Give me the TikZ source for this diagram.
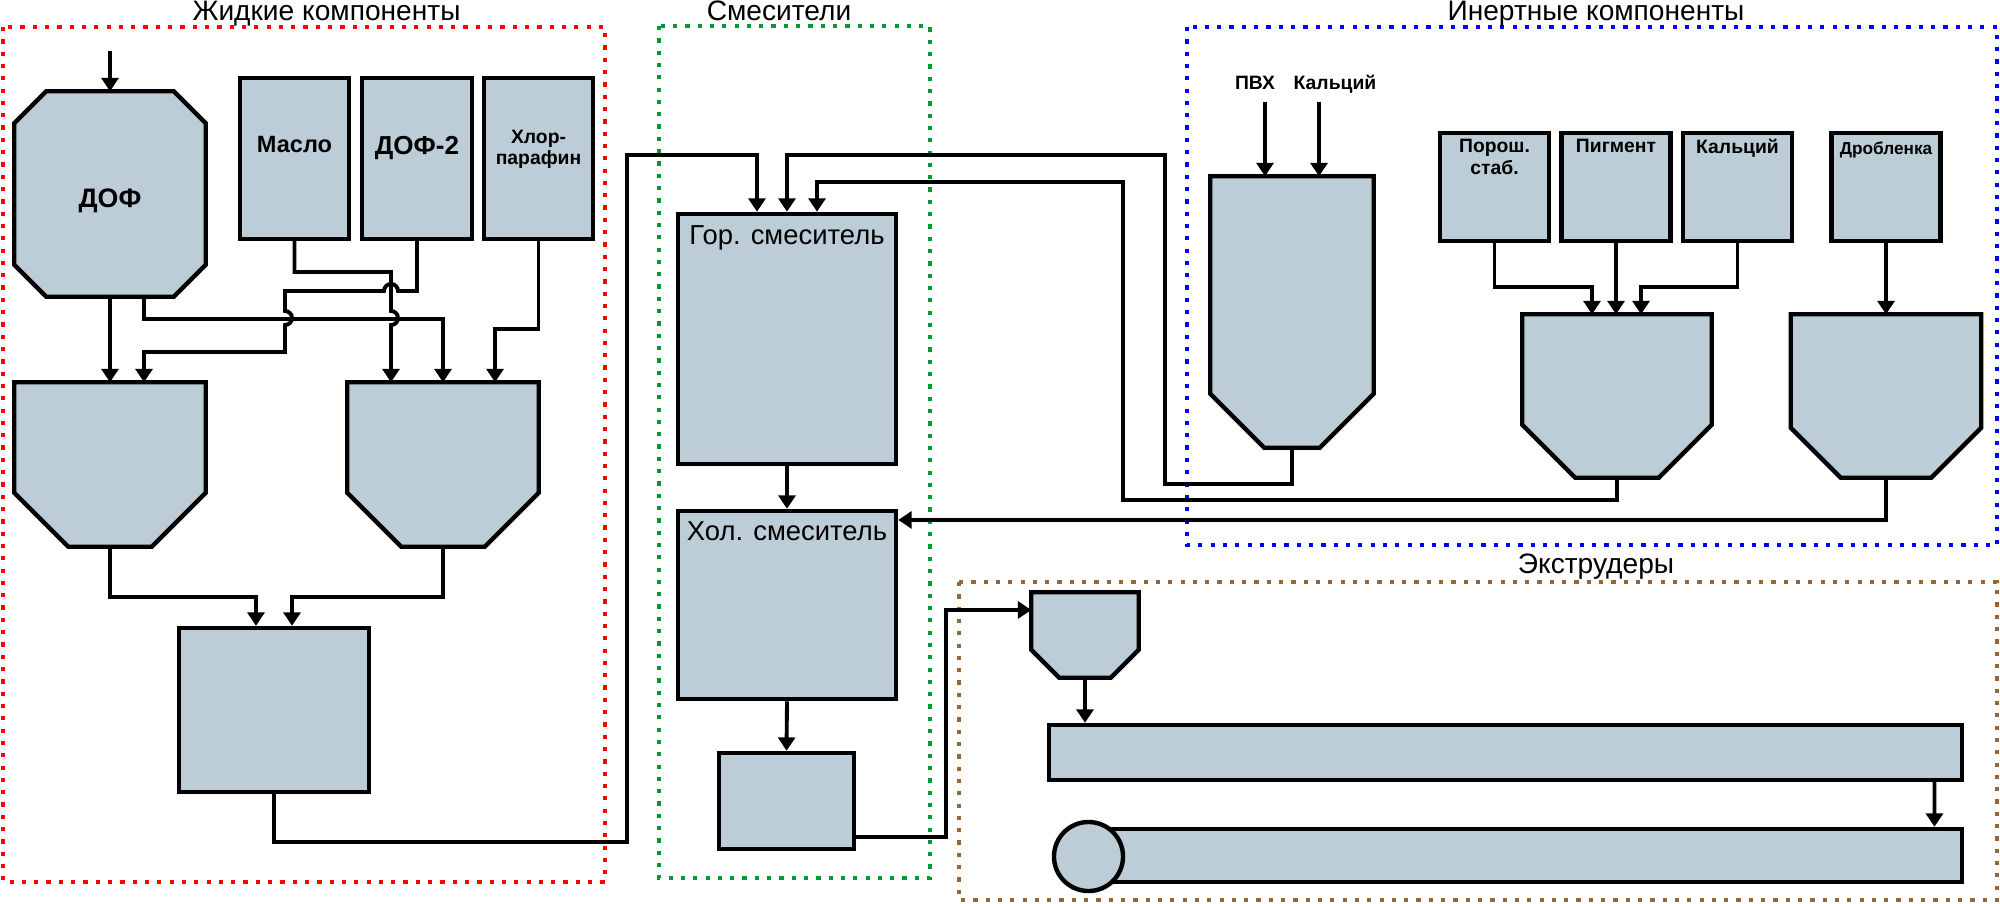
\documentclass[tikz,border=0pt]{standalone}
\usepackage{fontspec}
\setmainfont{Liberation Sans}
\usetikzlibrary{arrows.meta,backgrounds}
\definecolor{boxfill}{RGB}{188,205,216}
\definecolor{mixgreen}{RGB}{0,153,51}
\definecolor{inertblue}{RGB}{0,0,255}
\definecolor{extbrown}{RGB}{153,102,51}

\begin{document}
\begin{tikzpicture}[x=0.01cm,y=-0.01cm,
  unit/.style={draw,fill=boxfill,line width=1.25pt},
  tank/.style={unit,rectangle,inner sep=0pt},
  shell/.style={rectangle,inner sep=0pt},
  pipe/.style={draw,line width=1.1pt,-{Triangle[length=3.8pt,width=4.8pt]}},
  frame/.style={line width=1.3pt,dash pattern=on 1.2pt off 2.3pt},
  grp/.style={anchor=base,inner sep=0pt,font=\fontsize{8}{9.6}\selectfont},
  inlbl/.style={inner sep=0pt,align=center},
  toplbl/.style={anchor=north,inner sep=0pt,align=center},
  smallbold/.style={font=\fontsize{5.5}{6.3}\selectfont\bfseries},
  feedlbl/.style={smallbold,anchor=base,inner sep=0pt}]
  \useasboundingbox (0,0) rectangle (2000,903);

  \draw[frame,red] (3,27) rectangle (605,882);
  \draw[frame,mixgreen] (659,26) rectangle (930,878);
  \draw[frame,inertblue] (1187,27) rectangle (1997,545);
  \draw[frame,extbrown] (959,582) rectangle (1997,900);
  \node[grp] (tliq) at (326.5,20.5) {Жидкие компоненты};
  \node[grp] (tmix) at (779,20.5) {Смесители};
  \node[grp] (tinert) at (1596,20.5) {Инертные компоненты};
  \node[grp] (textr) at (1596,573) {Экструдеры};

  % liquid components
  \coordinate (feed) at (110,51);
  \node[shell,minimum width=1.9cm,minimum height=2.04cm,
    label={[inlbl,yshift=-.07cm,font=\fontsize{7.6}{9}\selectfont\bfseries]center:ДОФ}] (dof) at (110,194) {};
  \node[tank,minimum width=1.09cm,minimum height=1.61cm,
    label={[inlbl,yshift=.135cm,font=\fontsize{6.7}{8}\selectfont\bfseries]center:Масло}] (oil) at (294.5,158.5) {};
  \node[tank,minimum width=1.1cm,minimum height=1.61cm,
    label={[inlbl,yshift=.1cm,font=\fontsize{7.4}{9}\selectfont\bfseries]center:ДОФ-2}] (dof2) at (417,158.5) {};
  \node[tank,minimum width=1.09cm,minimum height=1.61cm,
    label={[inlbl,yshift=.09cm,font=\fontsize{5.5}{6}\selectfont\bfseries]center:Хлор-\\парафин}] (chl) at (538.5,158.5) {};
  \node[shell,minimum width=1.9cm,minimum height=1.63cm] (lh) at (110,464.5) {};
  \node[shell,minimum width=1.9cm,minimum height=1.63cm] (rh) at (443,464.5) {};
  \node[tank,minimum width=1.9cm,minimum height=1.64cm] (lbox) at (274,710) {};

  % mixers
  \node[tank,minimum width=2.18cm,minimum height=2.5cm,
    label={[toplbl,yshift=-.13cm,font=\fontsize{7.8}{9}\selectfont]north:Гор. смеситель}] (hot) at (787,339) {};
  \node[tank,minimum width=2.18cm,minimum height=1.88cm,
    label={[toplbl,yshift=-.12cm,font=\fontsize{7.8}{9}\selectfont]north:Хол. смеситель}] (cold) at (787,605) {};
  \node[tank,minimum width=1.35cm,minimum height=.96cm] (buffer) at (786.5,801) {};

  % inert components
  \node[feedlbl] (pvc) at (1255,89) {ПВХ};
  \node[feedlbl] (chalk) at (1335,89) {Кальций};
  \coordinate (pvcin) at (1265,102);
  \coordinate (chalkin) at (1319,102);
  \node[shell,minimum width=1.62cm,minimum height=2.7cm] (silo) at (1292,312) {};
  \node[tank,minimum width=1.09cm,minimum height=1.08cm,
    label={[toplbl,yshift=-.08cm,smallbold]north:Порош.\\стаб.}] (pst) at (1494.5,187) {};
  \node[tank,minimum width=1.09cm,minimum height=1.08cm,
    label={[toplbl,yshift=-.08cm,smallbold]north:Пигмент}] (pig) at (1616,187) {};
  \node[tank,minimum width=1.09cm,minimum height=1.08cm,
    label={[toplbl,yshift=-.08cm,smallbold]north:Кальций}] (cal) at (1737.5,187) {};
  \node[tank,minimum width=1.09cm,minimum height=1.08cm,
    label={[toplbl,yshift=-.1cm,font=\fontsize{4.9}{6}\selectfont\bfseries]north:Дробленка}] (drob) at (1886,187) {};
  \node[shell,minimum width=1.88cm,minimum height=1.62cm] (mh) at (1617,396) {};
  \node[shell,minimum width=1.89cm,minimum height=1.62cm] (dh) at (1886,396) {};

  % extruders
  \node[shell,minimum width=1.06cm,minimum height=.84cm] (eh) at (1085,635) {};
  \node[tank,minimum width=9.13cm,minimum height=.55cm] (bar1) at (1505.5,752.5) {};
  \node[tank,minimum width=8.73cm,minimum height=.53cm] (bar2) at (1525.5,855.5) {};
  \node[unit,circle,inner sep=0pt,minimum size=.69cm] (roll) at (1088.5,856.5) {};

  \begin{scope}[on background layer]
    \foreach \n/\c in {lh/.54cm,rh/.54cm,silo/.54cm,mh/.53cm,dh/.5cm,eh/.28cm}
      \filldraw[unit] (\n.north west) -- (\n.north east) -- ([yshift=\c]\n.south east)
        -- ([xshift=-\c]\n.south east) -- ([xshift=\c]\n.south west)
        -- ([yshift=\c]\n.south west) -- cycle;
    \filldraw[unit] ([xshift=.32cm]dof.north west) -- ([xshift=-.32cm]dof.north east)
      -- ([yshift=-.32cm]dof.north east) -- ([yshift=.32cm]dof.south east)
      -- ([xshift=-.32cm]dof.south east) -- ([xshift=.32cm]dof.south west)
      -- ([yshift=.32cm]dof.south west) -- ([yshift=-.32cm]dof.north west) -- cycle;
  \end{scope}

  \draw[pipe] (feed) -- (dof.north);
  \draw[pipe] (dof.south) -- (lh.north);
  \draw[pipe] ([xshift=.34cm]dof.south) -- ++(0,22) -| (rh.north);
  \draw[pipe] (oil.south) |- (391,272) -- (391,311)
    arc[start angle=90,end angle=-90,radius=.07cm] -- ([xshift=-.52cm]rh.north);
  \draw[pipe] (dof2.south) |- (398,291) arc[start angle=0,end angle=180,radius=.07cm]
    -- (285,291) -- (285,311) arc[start angle=90,end angle=-90,radius=.07cm]
    |- (144,352) -- ([xshift=.34cm]lh.north);
  \draw[pipe] (chl.south) -- ++(0,88) -| ([xshift=.52cm]rh.north);
  \draw[pipe] (lh.south) -- ++(0,50) -| ([xshift=-.18cm]lbox.north);
  \draw[pipe] (rh.south) -- ++(0,50) -| ([xshift=.18cm]lbox.north);
  \draw[pipe] (lbox.south) |- (627,842) -- (627,155) -| ([xshift=-.3cm]hot.north);

  \draw[pipe] (pvcin) -- ([xshift=-.27cm]silo.north);
  \draw[pipe] (chalkin) -- ([xshift=.27cm]silo.north);
  \draw[pipe] (pst.south) -- ++(0,44) -| ([xshift=-.25cm]mh.north);
  \draw[pipe] (pig.south) -- (pig.south |- mh.north);
  \draw[pipe] (cal.south) -- ++(0,44) -| ([xshift=.24cm]mh.north);
  \draw[pipe] (drob.south) -- (drob.south |- dh.north);
  \draw[pipe] (silo.south) -- ++(0,36) -| (1165,155) -| (hot.north);
  \draw[pipe] (mh.south) -- ++(0,22) -| (1123,182) -| ([xshift=.3cm]hot.north);
  \draw[pipe] (dh.south) |- ([yshift=.85cm]cold.east);

  \draw[pipe] (hot.south) -- (cold.north);
  \draw[pipe] (cold.south) -- (buffer.north);
  \draw[pipe] ([yshift=-.36cm]buffer.east) -| (946,610) -- ([yshift=.25cm]eh.west);
  \draw[pipe] (eh.south) -- (eh.south |- bar1.north);
  \draw[pipe] ([xshift=-.3cm]bar1.south east) -- ([xshift=-.3cm]bar2.north east);
\end{tikzpicture}
\end{document}
